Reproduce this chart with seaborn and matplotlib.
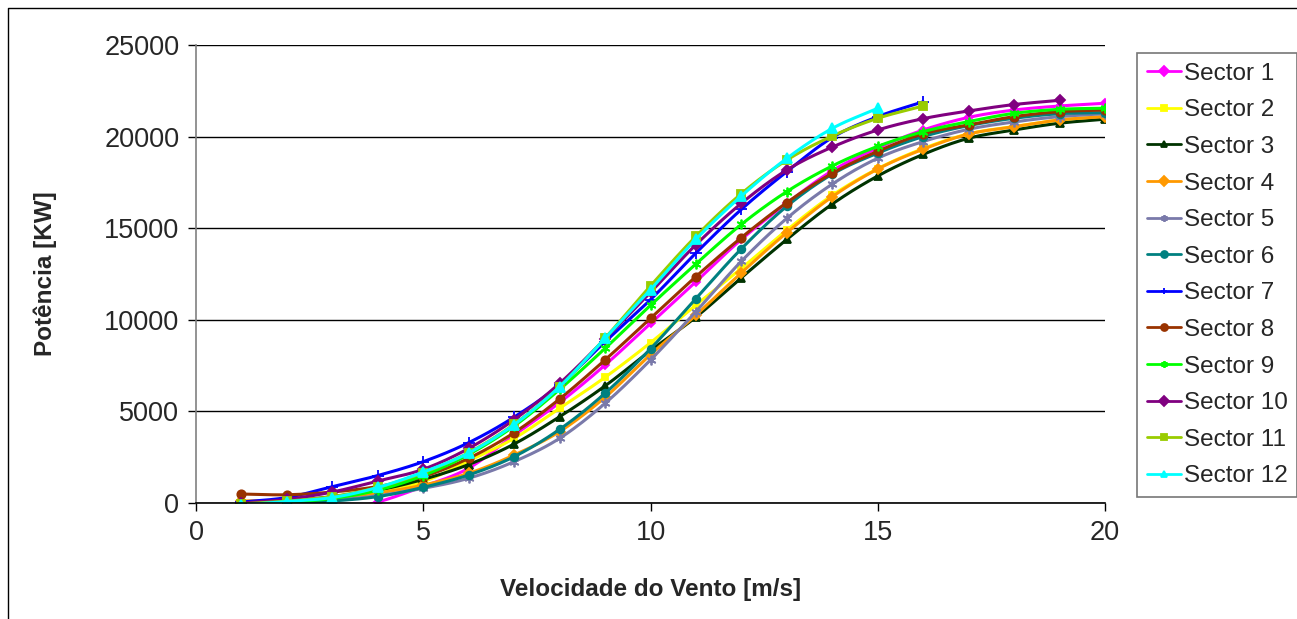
import numpy as np
import pandas as pd
import matplotlib
matplotlib.use("Agg")
import matplotlib.pyplot as plt
import seaborn as sns
from matplotlib.lines import Line2D

# ---------------- data ----------------
speed = list(range(1, 21))

sector_names = [f"Sector {i}" for i in range(1, 13)]

s1 = [-1200, -1000, -500, 50, 900, 1900, 3700, 5480, 7530, 9800, 12080, 14390, 16360, 18140, 19380, 20360, 21050, 21450, 21670, 21820]
s2 = [0, 50, 250, 600, 1165, 2300, 3530, 5170, 6860, 8750, 10810, 12810, 14900, 16800, 18250, 19350, 20150, 20550, 20900, 21100]
s3 = [-50, 100, 350, 700, 1290, 2100, 3220, 4710, 6390, 8320, 10150, 12300, 14390, 16320, 17850, 19030, 19910, 20360, 20730, 20950]
s4 = [110, 150, 300, 550, 980, 1620, 2620, 3900, 5770, 8100, 10260, 12570, 14760, 16720, 18230, 19310, 20140, 20540, 20910, 21090]
s5 = [0, 50, 150, 400, 800, 1350, 2260, 3530, 5440, 7810, 10450, 13200, 15540, 17410, 18820, 19730, 20400, 20800, 21090, 21250]
s6 = [-50, 0, 110, 350, 855, 1530, 2530, 4020, 5990, 8420, 11160, 13880, 16200, 17950, 19100, 20000, 20600, 21000, 21250, 21310]
s7 = [50, 300, 890, 1500, 2256, 3294, 4690, 6450, 8800, 11100, 13650, 16030, 18090, 19950, 21090, 21900]
s8 = [490, 450, 600, 900, 1440, 2440, 3840, 5680, 7810, 10080, 12360, 14490, 16400, 18000, 19200, 20150, 20640, 21090, 21360, 21450]
s9 = [-50, 50, 250, 700, 1500, 2650, 4200, 6200, 8440, 10790, 13050, 15210, 17000, 18400, 19470, 20270, 20820, 21270, 21490, 21550]
s10 = [0, 200, 600, 1200, 1840, 2980, 4550, 6530, 8950, 11500, 14100, 16360, 18180, 19430, 20360, 20980, 21400, 21750, 21980]
s11 = [-50, 100, 350, 850, 1650, 2750, 4300, 6350, 9000, 11850, 14560, 16890, 18720, 20030, 21000, 21670]
s12 = [-100, 80, 300, 850, 1690, 2730, 4280, 6350, 8990, 11650, 14400, 16760, 18815, 20450, 21545]

series = [s1, s2, s3, s4, s5, s6, s7, s8, s9, s10, s11, s12]

y_ticks = [0, 5000, 10000, 15000, 20000, 25000]
x_ticks = [0, 5, 10, 15, 20]

# ---------------- style ----------------
colors = ["#FF00FF", "#FFFF00", "#003300", "#FF9900", "#7A7AAA", "#008080",
          "#0000FF", "#993300", "#00FF00", "#800080", "#99CC00", "#00FFFF"]
markers = ["D", "s", "^", "D", (6, 2, 0), "o", "+", "o", (6, 2, 0), "D", "s", "^"]
msizes = [4.5, 5, 6, 5, 7, 5.5, 8, 6, 7, 5, 6, 7]


def smooth(xs, ys, n=16):
    """Catmull-Rom style smoothing to mimic Excel's smoothed lines."""
    xs = np.asarray(xs, float)
    ys = np.asarray(ys, float)
    px = np.concatenate([[2 * xs[0] - xs[1]], xs, [2 * xs[-1] - xs[-2]]])
    py = np.concatenate([[2 * ys[0] - ys[1]], ys, [2 * ys[-1] - ys[-2]]])
    outx, outy, idx = [], [], []
    for i in range(1, len(px) - 2):
        t = np.linspace(0, 1, n, endpoint=False)
        p0x, p1x, p2x, p3x = px[i - 1:i + 3]
        p0y, p1y, p2y, p3y = py[i - 1:i + 3]
        t2, t3 = t * t, t * t * t
        bx = 0.5 * (2 * p1x + (-p0x + p2x) * t + (2 * p0x - 5 * p1x + 4 * p2x - p3x) * t2 + (-p0x + 3 * p1x - 3 * p2x + p3x) * t3)
        by = 0.5 * (2 * p1y + (-p0y + p2y) * t + (2 * p0y - 5 * p1y + 4 * p2y - p3y) * t2 + (-p0y + 3 * p1y - 3 * p2y + p3y) * t3)
        idx.append(len(outx))
        outx.extend(bx)
        outy.extend(by)
    idx.append(len(outx))
    outx.append(xs[-1])
    outy.append(ys[-1])
    return np.array(outx), np.array(outy), idx


sns.set_style("white")
plt.rcParams["font.family"] = ["Liberation Sans", "DejaVu Sans"]

W, H = 1297, 619
fig = plt.figure(figsize=(W / 100, H / 100), dpi=100)
ax = fig.add_axes([196 / W, 1 - 503 / H, (1105 - 196) / W, (503 - 45) / H])

for name, vals, c, m, ms in zip(sector_names, series, colors, markers, msizes):
    xs = speed[:len(vals)]
    dx, dy, idx = smooth(xs, vals)
    sns.lineplot(x=dx, y=dy, ax=ax, color=c, lw=2.2, marker=m, markersize=ms,
                 markevery=idx, markeredgecolor=c, markerfacecolor=c,
                 markeredgewidth=1.3, label=name, sort=False, estimator=None)

ax.set_xlim(0, 20)
ax.set_ylim(0, 25000)
ax.set_xticks(x_ticks)
ax.set_yticks(y_ticks)
ax.set_xticklabels([str(v) for v in x_ticks])
ax.set_yticklabels([str(v) for v in y_ticks])
ax.yaxis.grid(True, color="black", lw=1)
ax.xaxis.grid(False)
for sp in ["top", "right"]:
    ax.spines[sp].set_visible(False)
ax.spines["left"].set_color("#808080")
ax.spines["bottom"].set_color("black")
for sp in ["left", "bottom"]:
    ax.spines[sp].set_linewidth(1.2)
ax.tick_params(axis="both", direction="out", length=6, width=1, color="black",
               labelsize=19.5, pad=6, left=True, bottom=True)
ax.set_xlabel("Velocidade do Vento [m/s]", fontsize=17.5, fontweight="bold")
ax.set_ylabel("Potência [KW]", fontsize=17.5, fontweight="bold")
ax.xaxis.set_label_coords((650.5 - 196) / 909, (503 - 578) / 458)
ax.yaxis.set_label_coords((57 - 196) / 909, 0.5)

leg = ax.legend(loc="upper left", bbox_to_anchor=(1137 / W, 1 - 53 / H),
                bbox_transform=fig.transFigure, frameon=True, fancybox=False,
                edgecolor="#555555", fontsize=17.5, handlelength=1.4, handletextpad=0.12,
                labelspacing=0.6, borderpad=0.4, borderaxespad=0)
leg.get_frame().set_linewidth(1.2)
for h in leg.legend_handles:
    h.set_markersize(5)
    h.set_linewidth(2)

fig.lines.append(Line2D([8 / W, 8 / W, 1.0], [0.0, 1 - 8 / H, 1 - 8 / H],
                        transform=fig.transFigure, color="black", lw=1))

fig.savefig("out.png", dpi=100)
